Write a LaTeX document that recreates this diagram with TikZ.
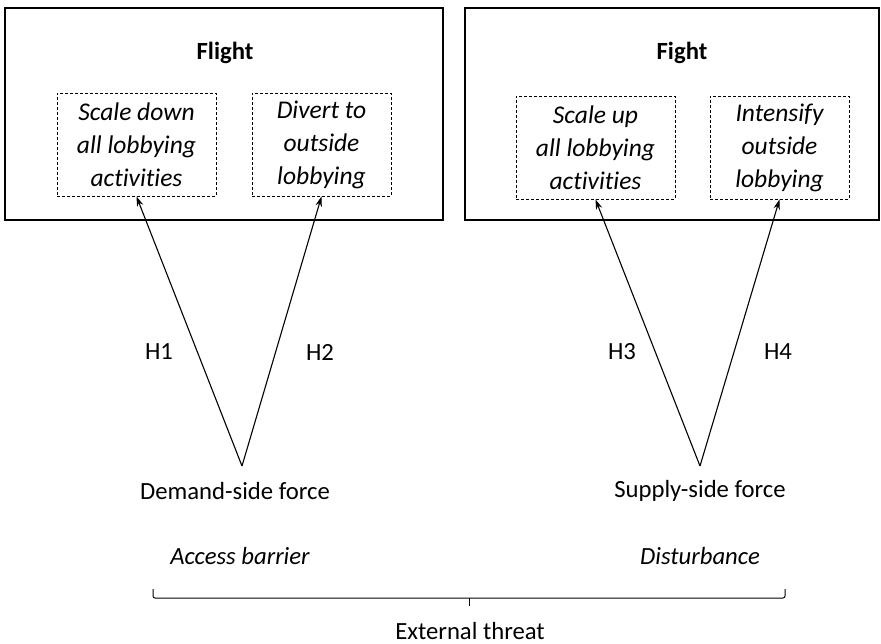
\documentclass[tikz,border=0pt]{standalone}
\usepackage{fontspec}
\setmainfont{Carlito}[Ligatures=NoCommon]
\usetikzlibrary{arrows.meta}
\begin{document}
\begin{tikzpicture}[x=1pt,y=-1pt,
  txt/.style={font=\fontsize{24.7}{28}\selectfont, inner sep=0pt},
  ttl/.style={font=\fontsize{24.7}{28}\selectfont\bfseries, inner sep=0pt},
  outerbox/.style={draw, line width=1.2pt, inner sep=0pt},
  optbox/.style={draw, line width=0.9pt, dash pattern=on 3pt off 2pt, inner sep=0pt, align=center,
     font=\fontsize{25.5}{33}\selectfont\itshape, minimum height=103pt},
  arr/.style={-{Stealth[length=10pt,width=6.5pt]}, line width=1.1pt}
]
\useasboundingbox (0,0) rectangle (881,644);
% outer boxes
\node[outerbox, minimum width=438pt, minimum height=212pt] (left) at (224,114) {};
\node[outerbox, minimum width=414pt, minimum height=212pt] (right) at (672,114) {};
\node[ttl] (flight) at (225,53) {Flight};
\node[ttl] (fight) at (682,53) {Fight};
% option boxes
\node[optbox, minimum width=159pt] (b1) at (136.5,144.5) {Scale down\\all lobbying\\activities};
\node[optbox, minimum width=139pt] (b2) at (321.5,144.5) {Divert to\\outside\\lobbying};
\node[optbox, minimum width=159pt] (b3) at (595.5,147.5) {Scale up\\all lobbying\\activities};
\node[optbox, minimum width=139pt] (b4) at (779.5,147.5) {Intensify\\outside\\lobbying};
% forces
\node[txt] (dem) at (235,491) {Demand-side force};
\node[txt] (sup) at (700,491) {Supply-side force};
\coordinate (a1) at (242,466);
\coordinate (a2) at (700,466);
\draw[arr] (a1) -- (b1.south);
\draw[arr] (a1) -- (b2.south);
\draw[arr] (a2) -- (b3.south);
\draw[arr] (a2) -- (b4.south);
\node[txt] (h1) at (159,352) {H1};
\node[txt] (h2) at (320,352) {H2};
\node[txt] (h3) at (622,352) {H3};
\node[txt] (h4) at (778,352) {H4};
\node[txt, font=\fontsize{24.7}{28}\selectfont\itshape] (acc) at (240,556) {Access barrier};
\node[txt, font=\fontsize{24.7}{28}\selectfont\itshape] (dis) at (700,556) {Disturbance};
% brace
\coordinate (bl) at (153,589);
\coordinate (br) at (785,589);
\coordinate (bm) at (469,606);
\draw[line width=1pt, rounded corners=2pt] (bl) -- (153,598) -- (785,598) -- (br);
\draw[line width=1pt] (469,598) -- (bm);
\node[txt] (ext) at (470,631) {External threat};
\end{tikzpicture}
\end{document}
